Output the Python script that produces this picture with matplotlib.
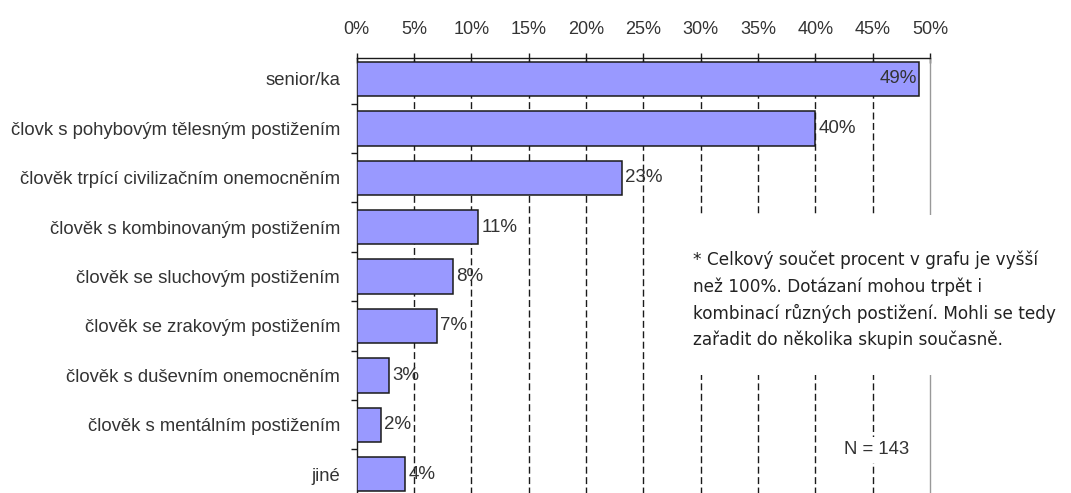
import matplotlib
matplotlib.use('Agg')
import matplotlib.pyplot as plt
from matplotlib.patches import Rectangle

# Kategorie a hodnoty (v %)
kategorie = [
    'senior/ka',
    'človk s pohybovým tělesným postižením',
    'člověk trpící civilizačním onemocněním',
    'člověk s kombinovaným postižením',
    'člověk se sluchovým postižením',
    'člověk se zrakovým postižením',
    'člověk s duševním onemocněním',
    'člověk s mentálním postižením',
    'jiné',
]
hodnoty = [49.0, 40.0, 23.1, 10.6, 8.4, 7.0, 2.8, 2.1, 4.2]
popisky = ['49%', '40%', '23%', '11%', '8%', '7%', '3%', '2%', '4%']
osa_x = [0, 5, 10, 15, 20, 25, 30, 35, 40, 45, 50]
osa_x_popisky = [f'{v}%' for v in osa_x]

poznamka = [
    '* Celkový součet procent v grafu je vyšší',
    'než 100%. Dotázaní mohou trpět i',
    'kombinací různých postižení. Mohli se tedy',
    'zařadit do několika skupin současně.',
]
pocet = 'N = 143'

W, H = 1071, 493
fig = plt.figure(figsize=(W / 100, H / 100), dpi=100)

# Umisteni osy v pixelech
x0, x1 = 356.7, 930.0
y_top = 58.0
krok = 49.4
vyska = 9 * krok
ax = fig.add_axes([x0 / W, (H - y_top - vyska) / H, (x1 - x0) / W, vyska / H])

text_barva = '#333333'
font = 'Liberation Sans'

pozice = list(range(len(kategorie)))
ax.barh(pozice, hodnoty, height=0.7, color='#9999FF', edgecolor='#1a1a1a',
        linewidth=1.1, zorder=3)

ax.set_xlim(0, 50)
ax.set_ylim(8.575, -0.425)

# Vertikalni carkovane mrizky
for v in osa_x[1:-1]:
    ax.axvline(v, color='#1a1a1a', linewidth=1.0, dashes=(5, 2.5), zorder=1)

# Osa x nahore
ax.xaxis.tick_top()
ax.set_xticks(osa_x)
ax.set_xticklabels(osa_x_popisky, fontsize=13, color=text_barva, family=font)
ax.tick_params(axis='x', direction='inout', length=7, width=1.0,
               color='#1a1a1a', pad=11)

# Osa y - kategorie
ax.set_yticks(pozice)
ax.set_yticklabels(kategorie, fontsize=13.3, color=text_barva, family=font)
ax.tick_params(axis='y', which='major', length=0, pad=12)
ax.set_yticks([p + 0.5 for p in pozice[:-1]], minor=True)
ax.tick_params(axis='y', which='minor', direction='out', length=4,
               width=1.0, color='#1a1a1a')

ax.spines['bottom'].set_visible(False)
ax.spines['top'].set_color('#1a1a1a')
ax.spines['left'].set_color('#1a1a1a')
ax.spines['right'].set_color('#999999')
for s in ax.spines.values():
    s.set_linewidth(1.0)

# Popisky hodnot
for p, v, t in zip(pozice, hodnoty, popisky):
    if v > 46:
        ax.annotate(t, (v, p), xytext=(-1, 0), textcoords='offset points',
                    ha='right', va='center', fontsize=13.5, color=text_barva,
                    family=font, zorder=4)
    else:
        ax.annotate(t, (v, p), xytext=(2.5, 0), textcoords='offset points',
                    ha='left', va='center', fontsize=13.5, color=text_barva,
                    family=font, zorder=4)

# Bily ramecek s poznamkou
fig.add_artist(Rectangle((670 / W, (H - 375) / H), (W - 670) / W, 160 / H,
                         transform=fig.transFigure, facecolor='white',
                         edgecolor='none', zorder=5))
for i, radek in enumerate(poznamka):
    fig.text(693 / W, (H - 260 - i * 26.7) / H, radek, ha='left', va='center',
             fontsize=12.2, color='#222222', family='DejaVu Sans', zorder=6)

fig.text(877 / W, (H - 450) / H, pocet, ha='center', va='center', fontsize=13.3,
         color=text_barva, family=font, zorder=6,
         bbox=dict(facecolor='white', edgecolor='none', pad=3))

fig.savefig('out.png', dpi=100)
